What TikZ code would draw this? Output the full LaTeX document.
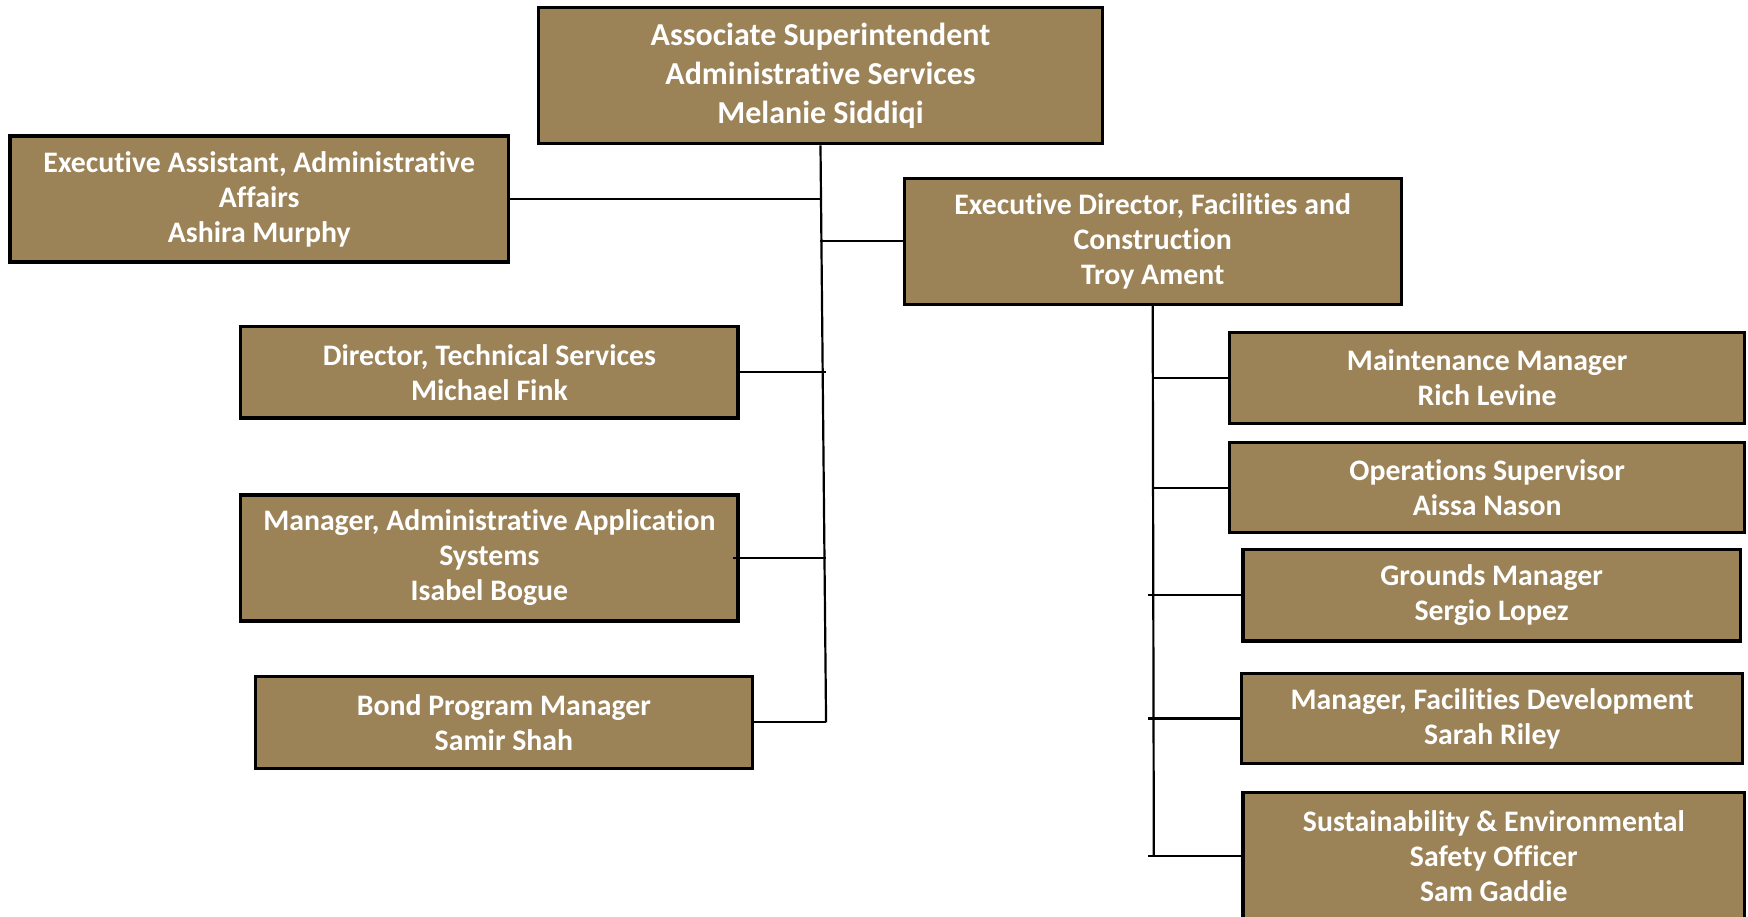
\documentclass[tikz,border=0pt]{standalone}
\usepackage{fontspec}
\setmainfont{Carlito}[Ligatures=NoCommon]
\definecolor{boxfill}{HTML}{9B8257}
\def\px{0.25mm}
\tikzset{
  orgbox/.style={draw=black, line width=2pt, fill=boxfill, text=white,
    font=\bfseries\fontsize{19}{22.3}\selectfont, align=center, inner sep=0pt},
  boxsize/.style 2 args={minimum width=#1*\px, minimum height=#2*\px},
  link/.style={line width=1.4pt}
}
\begin{document}
\begin{tikzpicture}[x=\px,y=-\px]
\useasboundingbox (0,0) rectangle (1568,822);
% top
\node[orgbox, boxsize={506}{122}, font=\bfseries\fontsize{20.4}{24.6}\selectfont] (asup) at (736,68)
  {Associate Superintendent\\Administrative Services\\Melanie Siddiqi};
% left branch
\node[orgbox, boxsize={447}{113}] (execasst) at (232.5,178.5)
  {Executive Assistant, Administrative\\Affairs\\Ashira Murphy};
\node[orgbox, boxsize={446}{82}] (dirtech) at (439,334)
  {Director, Technical Services\\Michael Fink};
\node[orgbox, boxsize={446}{113}] (mgrapps) at (439,500.5)
  {Manager, Administrative Application\\Systems\\Isabel Bogue};
\node[orgbox, boxsize={446}{82}] (bond) at (452,648)
  {Bond Program Manager\\Samir Shah};
% right branch
\node[orgbox, boxsize={446}{113}] (execdir) at (1034,216.5)
  {Executive Director, Facilities and\\Construction\\Troy Ament};
\node[orgbox, boxsize={462}{82}] (maint) at (1334,339)
  {Maintenance Manager\\Rich Levine};
\node[orgbox, boxsize={462}{81}] (ops) at (1334,437.5)
  {Operations Supervisor\\Aissa Nason};
\node[orgbox, boxsize={446}{82}] (grounds) at (1338,534)
  {Grounds Manager\\Sergio Lopez};
\node[orgbox, boxsize={449}{81}] (facdev) at (1338.5,644.5)
  {Manager, Facilities Development\\Sarah Riley};
\node[orgbox, boxsize={450}{114}] (sustain) at (1340,768)
  {Sustainability \& Environmental\\Safety Officer\\Sam Gaddie};

% connectors
\coordinate (ltrunk) at (741,648);
\coordinate (rtrunk) at (1035,768);
\draw[link] (asup.south) -- (ltrunk);
\draw[link] (execasst.east) -- (execasst.east -| asup.south);
\draw[link] (execdir.west) -- (execdir.west -| asup.south);
\draw[link] (dirtech.east) -- (dirtech.east -| ltrunk);
\draw[link] ([xshift=-6*\px]mgrapps.east) -- (mgrapps.east -| ltrunk);
\draw[link] (bond.east) -- (ltrunk);
\draw[link] (execdir.south) -- (rtrunk);
\draw[link] (maint.west) -- (maint.west -| rtrunk);
\draw[link] (ops.west) -- (ops.west -| rtrunk);
\draw[link] (grounds.west) -- ++(-84,0);
\draw[link] (facdev.west) -- ++(-83,0);
\draw[link] (sustain.west) -- ++(-84,0);
\end{tikzpicture}
\end{document}
